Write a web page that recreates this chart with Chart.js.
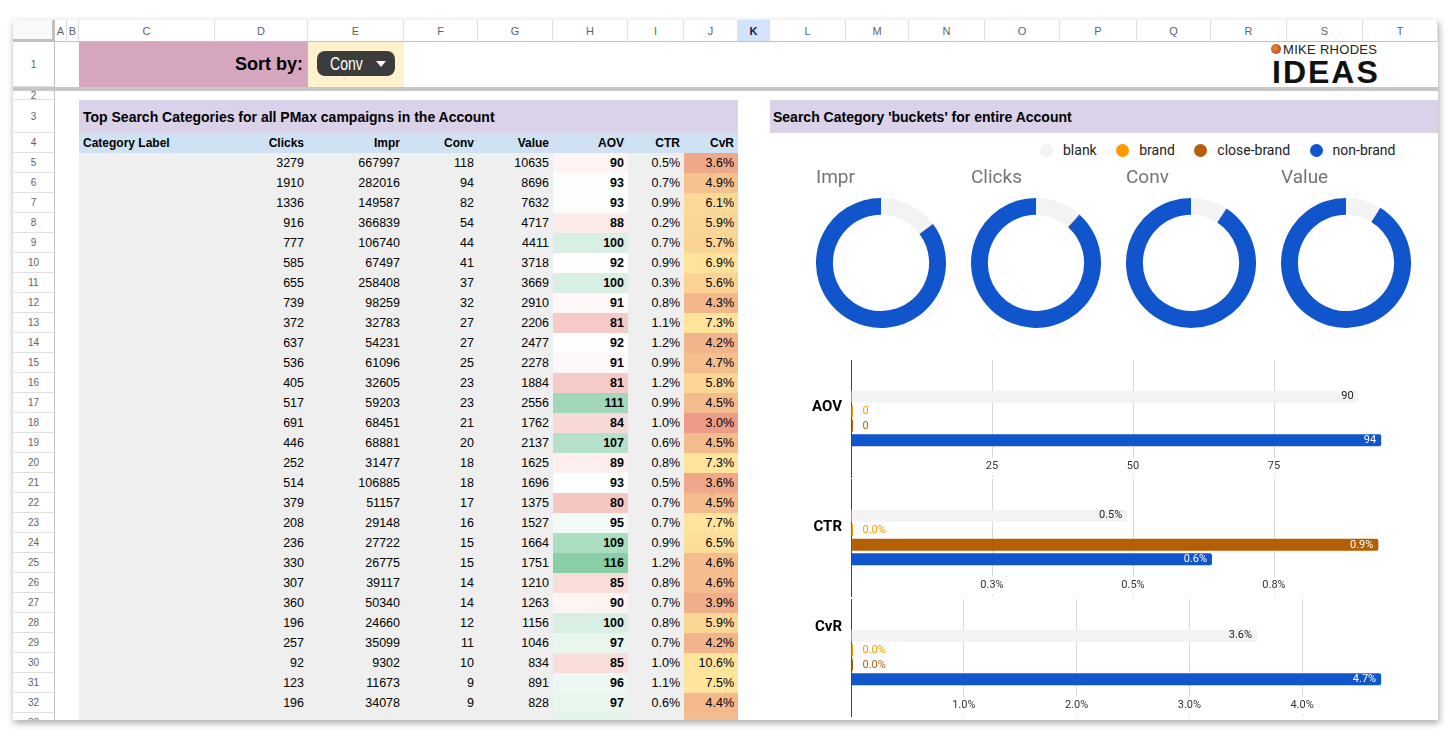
<!doctype html>
<html lang="en">
  <head>
    <meta charset="utf-8">
    <title>Search Category buckets</title>
    <style>
      * { margin: 0; padding: 0; }
      body { width: 1454px; height: 744px; background: #fff; font-family: 'Liberation Sans', Arial, sans-serif; overflow: hidden; }
      #sheet {
        position: absolute; left: 13px; top: 20px; width: 1425px; height: 700px;
        background: #fff; overflow: hidden;
        box-shadow: 1px 3px 7px rgba(0,0,0,0.35);
      }
      .c {
        position: absolute; box-sizing: border-box; display: flex; align-items: center;
        overflow: hidden; white-space: nowrap; font-size: 12.5px; color: #000;
      }
      .r { justify-content: flex-end; padding-right: 4px; }
      .b { font-weight: bold; }
      .hdr { justify-content: center; font-size: 11px; color: #5f6368; border-right: 1px solid #e0e0e0; border-bottom: 1px solid #c0c0c0; }
      .rowhdr { justify-content: center; font-size: 10px; color: #5f6368; border-right: 1px solid #c0c0c0; border-bottom: 1px solid #e0e0e0; }
      .w { position: absolute; }
      #legend { position: absolute; display: flex; align-items: center; font-family: Roboto, sans-serif; font-size: 14px; color: #222; }
      #legend span.dot { width: 13px; height: 13px; border-radius: 50%; margin-right: 10px; }
      #legend span.txt { margin-right: 19.5px; }
    </style>
  </head>
  <body>
    <div id="sheet"></div>
    <script src="https://cdn.jsdelivr.net/npm/chart.js/dist/chart.umd.min.js"></script>
    <script>
    // table data (rows 5-32)
    const clicks = [3279, 1910, 1336, 916, 777, 585, 655, 739, 372, 637, 536, 405, 517, 691, 446, 252, 514, 379, 208, 236, 330, 307, 360, 196, 257, 92, 123, 196];
    const impr = [667997, 282016, 149587, 366839, 106740, 67497, 258408, 98259, 32783, 54231, 61096, 32605, 59203, 68451, 68881, 31477, 106885, 51157, 29148, 27722, 26775, 39117, 50340, 24660, 35099, 9302, 11673, 34078];
    const conv = [118, 94, 82, 54, 44, 41, 37, 32, 27, 27, 25, 23, 23, 21, 20, 18, 18, 17, 16, 15, 15, 14, 14, 12, 11, 10, 9, 9];
    const value = [10635, 8696, 7632, 4717, 4411, 3718, 3669, 2910, 2206, 2477, 2278, 1884, 2556, 1762, 2137, 1625, 1696, 1375, 1527, 1664, 1751, 1210, 1263, 1156, 1046, 834, 891, 828];
    const aov = [90, 93, 93, 88, 100, 92, 100, 91, 81, 92, 91, 81, 111, 84, 107, 89, 93, 80, 95, 109, 116, 85, 90, 100, 97, 85, 96, 97];
    const ctr = [0.5, 0.7, 0.9, 0.2, 0.7, 0.9, 0.3, 0.8, 1.1, 1.2, 0.9, 1.2, 0.9, 1.0, 0.6, 0.8, 0.5, 0.7, 0.7, 0.9, 1.2, 0.8, 0.7, 0.8, 0.7, 1.0, 1.1, 0.6];
    const cvr = [3.6, 4.9, 6.1, 5.9, 5.7, 6.9, 5.6, 4.3, 7.3, 4.2, 4.7, 5.8, 4.5, 3.0, 4.5, 7.3, 3.6, 4.5, 7.7, 6.5, 4.6, 4.6, 3.9, 5.9, 4.2, 10.6, 7.5, 4.4];
    const tableHeaders = ['Clicks', 'Impr', 'Conv', 'Value', 'AOV', 'CTR', 'CvR'];

    // chart data
    const seriesNames = ['blank', 'brand', 'close-brand', 'non-brand'];
    const seriesColors = ['#f3f3f3', '#ff9900', '#b45f06', '#1155cc'];
    const doughnutTitles = ['Impr', 'Clicks', 'Conv', 'Value'];
    const imprShare = [14.7, 0.02, 0.05, 85.23];
    const clicksShare = [11.6, 0, 0.1, 88.3];
    const convShare = [9.2, 0, 0, 90.8];
    const valueShare = [8.85, 0, 0, 91.15];
    const aovBySeries = [90, 0, 0, 94];
    const ctrBySeries = [0.49, 0, 0.935, 0.64];
    const cvrBySeries = [3.6, 0, 0, 4.7];

    Chart.defaults.font.family = "Roboto, 'Liberation Sans', Arial, sans-serif";

    const sheet = document.getElementById('sheet');
    function box(x1, y1, x2, y2, cls, css, text) {
      const d = document.createElement('div');
      d.className = cls;
      d.style.cssText = `left:${x1 - 13}px;top:${y1 - 20}px;width:${x2 - x1}px;height:${y2 - y1}px;` + (css || '');
      if (text !== undefined) d.textContent = text;
      sheet.appendChild(d);
      return d;
    }

    // column + row headers
    const colEdges = [55, 67, 79, 215, 308, 404, 478, 553, 628, 684, 738, 770, 846, 909, 985, 1060, 1137, 1211, 1287, 1363, 1438];
    const colNames = 'ABCDEFGHIJKLMNOPQRST';
    box(13, 20, 55, 42, 'c', 'background:#f8f9fa;border-right:3px solid #c0c0c0;border-bottom:3px solid #c0c0c0;');
    for (let i = 0; i < colNames.length; i++) {
      const k = colNames[i] === 'K';
      box(colEdges[i], 20, colEdges[i + 1], 42, 'c hdr' + (k ? ' b' : ''), k ? 'background:#d3e3fd;color:#0b1f44;' : '', colNames[i]);
    }
    const rowEdges = [[1, 42, 87], [2, 91, 100], [3, 100, 133], [4, 133, 153]];
    for (let r = 5; r <= 33; r++) rowEdges.push([r, 153 + (r - 5) * 20, 173 + (r - 5) * 20]);
    rowEdges.forEach(([n, y1, y2]) => box(13, y1, 55, y2, 'c rowhdr', '', String(n)));
    box(13, 87, 1438, 91, 'c', 'background:#c6c6c6;');

    // row 1
    box(79, 42, 308, 87, 'c r b', 'background:#d5a6bd;font-size:18px;padding-right:5px;', 'Sort by:');
    box(308, 42, 404, 87, 'c', 'background:#fff2cc;');
    const pill = box(317, 51, 395, 76, 'c', 'background:#3c3c3c;border-radius:8px;');
    pill.innerHTML = '<span style="color:#fff;font-size:19px;display:inline-block;transform:scaleX(0.74);transform-origin:left center;margin-left:13px;">Conv</span>' +
      '<span style="position:absolute;left:59px;top:10px;width:0;height:0;border-left:5px solid transparent;border-right:5px solid transparent;border-top:6px solid #fff;"></span>';
    // logo
    box(1271, 44, 1281, 54, 'c', 'border-radius:50%;background:radial-gradient(circle at 40% 40%, #f08a3c, #a8381a);');
    box(1283, 41, 1400, 57, 'c', 'font-size:13px;letter-spacing:0.3px;color:#222;', 'MIKE RHODES');
    box(1272, 55, 1420, 88, 'c b', 'font-size:32px;line-height:32px;letter-spacing:2px;color:#111;', 'IDEAS');

    // row 3 + 4 titles
    box(79, 100, 738, 133, 'c b', 'background:#d9d2e9;font-size:14px;padding-left:4px;', 'Top Search Categories for all PMax campaigns in the Account');
    box(770, 100, 1438, 133, 'c b', 'background:#d9d2e9;font-size:14px;padding-left:3px;', "Search Category 'buckets' for entire Account");
    box(79, 133, 738, 153, 'c b', 'background:#cfe2f3;font-size:12px;padding-left:4px;', 'Category Label');
    const dataCols = [[215, 308], [308, 404], [404, 478], [478, 553], [553, 628], [628, 684], [684, 738]];
    tableHeaders.forEach((h, j) => box(dataCols[j][0], 133, dataCols[j][1], 153, 'c r b', 'font-size:12px;', h));

    // colour scales
    function mix(a, b, t) { return `rgb(${a.map((v, i) => Math.round(v + (b[i] - v) * t)).join(',')})`; }
    function scale(stops, v) {
      if (v <= stops[0][0]) return mix(stops[0][1], stops[0][1], 0);
      for (let i = 1; i < stops.length; i++) {
        if (v <= stops[i][0]) return mix(stops[i - 1][1], stops[i][1], (v - stops[i - 1][0]) / (stops[i][0] - stops[i - 1][0]));
      }
      return mix(stops[stops.length - 1][1], stops[stops.length - 1][1], 0);
    }
    const aovStops = [[Math.min(...aov), [244, 199, 195]], [92.5, [255, 255, 255]], [Math.max(...aov), [136, 206, 167]]];
    const cvrStops = [[Math.min(...cvr), [235, 155, 136]], [4.5, [244, 187, 140]], [5.8, [251, 214, 148]], [7.0, [255, 228, 155]], [Math.max(...cvr), [255, 229, 156]]];

    // table body
    for (let i = 0; i < clicks.length; i++) {
      const y1 = 153 + i * 20, y2 = y1 + 20;
      box(79, y1, 553, y2, 'c', 'background:#efefef;');
      box(628, y1, 684, y2, 'c', 'background:#efefef;');
      box(553, y1, 628, y2, 'c', 'background:' + scale(aovStops, aov[i]) + ';');
      box(684, y1, 738, y2, 'c', 'background:' + scale(cvrStops, cvr[i]) + ';');
      const vals = [clicks[i], impr[i], conv[i], value[i], aov[i], ctr[i].toFixed(1) + '%', cvr[i].toFixed(1) + '%'];
      vals.forEach((v, j) => box(dataCols[j][0], y1, dataCols[j][1], y2, 'c r' + (j === 4 ? ' b' : ''), '', String(v)));
    }
    // partial row 33 backgrounds
    box(79, 713, 553, 733, 'c', 'background:#efefef;');
    box(628, 713, 684, 733, 'c', 'background:#efefef;');
    box(553, 713, 628, 733, 'c', 'background:#e2f3e9;');
    box(684, 713, 738, 733, 'c', 'background:#f4bd8f;');

    // legend
    const legend = box(1040, 142, 1436, 158, '', '');
    legend.id = 'legend';
    seriesNames.forEach((n, i) => {
      legend.innerHTML += `<span class="dot" style="background:${seriesColors[i]}"></span><span class="txt">${n}</span>`;
    });

    // doughnuts
    const shares = [imprShare, clicksShare, convShare, valueShare];
    doughnutTitles.forEach((t, i) => {
      const wrap = box(816 + 155 * i, 167, 946 + 155 * i, 328, 'w', '');
      const cv = document.createElement('canvas');
      wrap.appendChild(cv);
      new Chart(cv, {
        type: 'doughnut',
        data: { labels: seriesNames, datasets: [{ data: shares[i], backgroundColor: seriesColors, borderWidth: 0 }] },
        options: {
          responsive: true, maintainAspectRatio: false, animation: false,
          cutout: '74%',
          plugins: {
            legend: { display: false },
            tooltip: { enabled: false },
            title: { display: true, text: t, align: 'start', color: '#757575', font: { size: 19, weight: 'normal' }, padding: { top: 0, bottom: 8 } }
          }
        }
      });
    });

    // value labels on bars
    const barLabels = {
      id: 'barLabels',
      afterDatasetsDraw(chart, args, opts) {
        const ctx = chart.ctx;
        ctx.save();
        ctx.font = "11px Roboto, sans-serif";
        ctx.textBaseline = 'middle';
        chart.data.datasets.forEach((ds, i) => {
          const bar = chart.getDatasetMeta(i).data[0];
          const v = ds.data[0];
          const txt = v.toFixed(opts.decimals) + opts.suffix;
          const w = ctx.measureText(txt).width;
          if (bar.x - bar.base > w + 12) {
            ctx.textAlign = 'right';
            ctx.fillStyle = i === 0 ? '#222' : '#fff';
            ctx.fillText(txt, bar.x - 5, bar.y);
          } else {
            ctx.textAlign = 'left';
            ctx.fillStyle = ds.backgroundColor;
            ctx.fillText(txt, bar.base + 11, bar.y);
          }
        });
        ctx.restore();
      }
    };

    function barChart(top, label, values, max, step, decimals, suffix, labelOffset) {
      const wrap = box(791, top, 1420, top + 125, 'w', '');
      const cv = document.createElement('canvas');
      wrap.appendChild(cv);
      new Chart(cv, {
        type: 'bar',
        data: {
          labels: [label],
          datasets: seriesNames.map((n, i) => ({
            label: n, data: [values[i]], backgroundColor: seriesColors[i],
            borderRadius: 2, borderSkipped: 'start', minBarLength: 2
          }))
        },
        options: {
          indexAxis: 'y', responsive: true, maintainAspectRatio: false, animation: false,
          layout: { padding: { left: 0, right: 5, top: 0, bottom: 0 } },
          datasets: { bar: { categoryPercentage: 0.496, barPercentage: 0.83 } },
          plugins: {
            legend: { display: false },
            tooltip: { enabled: false },
            barLabels: { decimals, suffix }
          },
          scales: {
            x: {
              min: 0, max,
              ticks: {
                stepSize: step, mirror: true, padding: 4, color: '#333', font: { size: 11 },
                showLabelBackdrop: true, backdropColor: '#fff', backdropPadding: 2,
                callback: (v) => (v === 0 || v === max) ? '' : v.toFixed(decimals) + suffix
              },
              grid: { drawTicks: false, color: (c) => (c.tick && (c.tick.value === 0 || c.tick.value === max)) ? 'rgba(0,0,0,0)' : '#d9d9d9' },
              border: { display: false }
            },
            y: {
              afterFit: (s) => { s.width = 60; s.paddingTop = 0; s.paddingBottom = 0; },
              ticks: { padding: 9, labelOffset, color: '#000', font: { size: 15, weight: 'bold' } },
              grid: { display: false, drawTicks: false },
              border: { display: true, color: '#444', width: 1 }
            }
          }
        },
        plugins: [barLabels]
      });
    }

    barChart(360, 'AOV', aovBySeries, 100, 25, 0, '', -11.5);
    barChart(479, 'CTR', ctrBySeries, 1, 0.25, 1, '%', -10.5);
    barChart(599, 'CvR', cvrBySeries, 5, 1, 1, '%', -30.5);
    </script>
  </body>
</html>
